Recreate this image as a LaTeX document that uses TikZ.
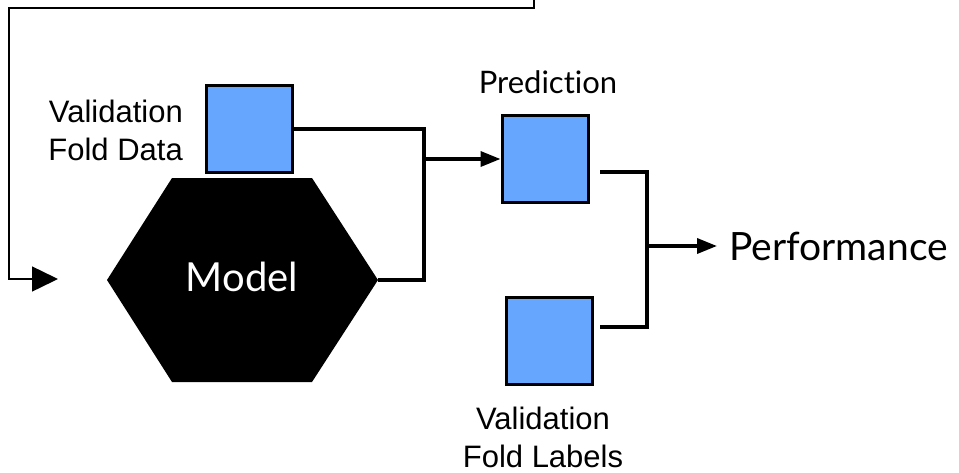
\documentclass[tikz,border=0pt]{standalone}
\usepackage{fontspec}
\setmainfont{Liberation Sans}
\newfontfamily\avfont[Ligatures=NoCommon]{Lato}
\usetikzlibrary{arrows.meta}
\definecolor{foldblue}{HTML}{66A6FF}
\tikzset{
  foldbox/.style={draw=black, line width=3pt, fill=foldblue, minimum width=86pt, minimum height=87pt, inner sep=0pt},
  link/.style={line width=3.5pt},
  feedback/.style={line width=1.5pt},
  lbl/.style={font=\fontsize{31}{37.5}\selectfont, inner sep=0pt}
}
\begin{document}
\begin{tikzpicture}[x=1pt,y=-1pt,>={Triangle[length=20pt,width=15pt]}]
\useasboundingbox (0,0) rectangle (959,472);
\coordinate (hexL) at (107,280);
\coordinate (hexTL) at (172,178);
\coordinate (hexTR) at (312,178);
\coordinate (hexR) at (378,280);
\coordinate (hexBR) at (312,382);
\coordinate (hexBL) at (172,382);
\fill[black] (hexL) -- (hexTL) -- (hexTR) -- (hexR) -- (hexBR) -- (hexBL) -- cycle;
\node[text=white, font=\avfont\fontsize{40}{40}\selectfont, inner sep=0pt] (model) at (242,277) {Model};
\node[foldbox] (data) at (249,129) {};
\node[foldbox] (pred) at (545,159) {};
\node[foldbox] (labels) at (549,341) {};
\node[lbl, anchor=base east, align=right] (datatext) at (183,160) {Validation\\Fold Data};
\node[lbl, anchor=base, align=center] (labeltext) at (543,467) {Validation\\Fold Labels};
\node[anchor=base, inner sep=0pt, font=\avfont\fontsize{31}{31}\selectfont] (predtext) at (548,93) {Prediction};
\node[anchor=west, inner xsep=12pt, inner ysep=0pt, font=\avfont\fontsize{39}{39}\selectfont] (perf) at (717,246) {Performance};
\coordinate (mergeL) at (424,159);
\coordinate (mergeR) at (647,246);
\coordinate (predOut) at (600,172);
\coordinate (labOut) at (600,327);
\coordinate (loopTop) at (534,0);
\coordinate (loopCorner) at (9,8);
\coordinate (loopEnd) at (58,279);
\draw[link] (data.east) -| (mergeL) |- (hexR);
\draw[link,->] (mergeL) -- (pred.west);
\draw[link] (predOut) -| (mergeR) |- (labOut);
\draw[link,->] (mergeR) -- (perf.west);
\draw[feedback,-{Triangle[length=26pt,width=25pt]}] (loopTop) |- (loopCorner) |- (loopEnd);
\end{tikzpicture}
\end{document}
